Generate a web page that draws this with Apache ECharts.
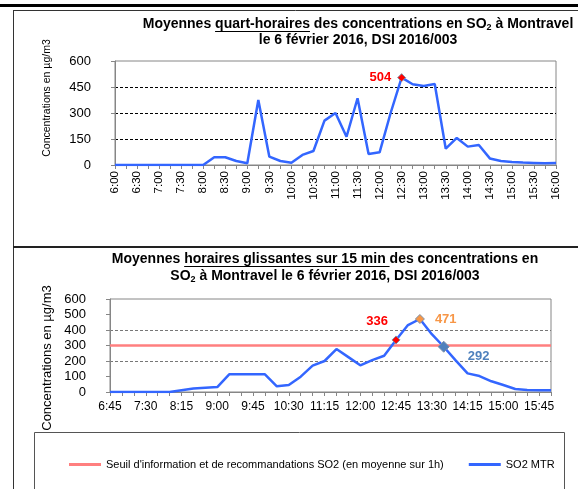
<!DOCTYPE html>
<html>
<head>
<meta charset="utf-8">
<script src="https://cdn.jsdelivr.net/npm/echarts@6/dist/echarts.min.js"></script>
<style>
html, body { margin: 0; padding: 0; background: #fff; }
#chart { width: 578px; height: 489px; }
</style>
</head>
<body>
<div id="chart"></div>
<script>
// quart-horaires, 6:00 -> 16:00
const quartHeures = ['6:00','6:15','6:30','6:45','7:00','7:15','7:30','7:45','8:00','8:15','8:30','8:45',
	'9:00','9:15','9:30','9:45','10:00','10:15','10:30','10:45','11:00','11:15','11:30','11:45',
	'12:00','12:15','12:30','12:45','13:00','13:15','13:30','13:45','14:00','14:15','14:30','14:45',
	'15:00','15:15','15:30','15:45','16:00']
const so2Quart = [0,0,0,0,0,0,0,0,0,45,45,23,
	10,375,48,23,13,58,81,256,300,163,385,63,
	73,300,504,466,456,467,94,156,106,115,38,23,
	17,14,12,10,12]

// moyennes horaires glissantes, 6:45 -> 16:00
const heuresGlissantes = ['6:45','7:00','7:15','7:30','7:45','8:00','8:15','8:30','8:45',
	'9:00','9:15','9:30','9:45','10:00','10:15','10:30','10:45','11:00','11:15','11:30','11:45',
	'12:00','12:15','12:30','12:45','13:00','13:15','13:30','13:45','14:00','14:15','14:30','14:45',
	'15:00','15:15','15:30','15:45','16:00']
const so2Glissant = [0,0,0,0,0,0,11,22,28,
	32,114,114,114,114,37,45,99,170,200,277,225,
	172,206,234,336,432,471,373,292,204,120,103,69,
	45,19,13,11,11]
const seuil = 300

const police = 'Liberation Sans, Arial, sans-serif'
const bleu = '#3366ff'
const gris = '#868686'

// points annotés (style seulement)
const marquesQuart = {
	'12:30': { color: '#ff0000', size: 8, label: { position: 'left', distance: 6 } },
}
const marquesGlissant = {
	'12:45': { color: '#ff0000', size: 8, label: { position: 'top', distance: 5, offset: [-19, -2] } },
	'13:15': { color: '#f79646', size: 9, label: { position: 'right', distance: 10 } },
	'13:45': { color: '#4f81bd', size: 11, label: { position: 'right', distance: 18, offset: [0, 10] } },
}

function avecMarques(valeurs, cats, marques) {
	return valeurs.map((v, i) => {
		const m = marques[cats[i]]
		if (!m) return v
		return {
			value: v,
			symbol: 'diamond',
			symbolSize: m.size,
			itemStyle: { color: m.color, borderColor: '#7f8fa6', borderWidth: 1 },
			label: Object.assign({
				show: true,
				formatter: String(v),
				color: m.color,
				fontWeight: 'bold',
				fontSize: 13,
				fontFamily: police,
			}, m.label),
		}
	})
}

// titres : segments mesurés pour placer indice et soulignement
const ctx = document.createElement('canvas').getContext('2d')
function largeur(txt, taille) {
	ctx.font = 'bold ' + taille + 'px ' + police
	return ctx.measureText(txt).width
}
function ligneTitre(segments, cx, cy) {
	const els = []
	const tailles = segments.map(s => (s.sub ? 9 : 14))
	const larg = segments.map((s, i) => largeur(s.t, tailles[i]))
	let x = cx - larg.reduce((a, b) => a + b, 0) / 2
	segments.forEach((s, i) => {
		els.push({
			type: 'text', x: x, y: s.sub ? cy + 4 : cy,
			style: {
				text: s.t, fill: '#000', fontSize: tailles[i], fontWeight: 'bold',
				fontFamily: police, align: 'left', verticalAlign: 'middle',
			},
		})
		if (s.u) {
			els.push({
				type: 'line',
				shape: { x1: x, y1: cy + 7.5, x2: x + larg[i], y2: cy + 7.5 },
				style: { stroke: '#000', lineWidth: 1 },
			})
		}
		x += larg[i]
	})
	return els
}

const titres = [].concat(
	ligneTitre([
		{ t: 'Moyennes ' },
		{ t: 'quart-horaires', u: true },
		{ t: ' des concentrations en SO' },
		{ t: '2', sub: true },
		{ t: ' à Montravel' },
	], 358, 24),
	ligneTitre([{ t: 'le 6 février 2016, DSI 2016/003' }], 358, 40),
	ligneTitre([
		{ t: 'Moyennes ' },
		{ t: 'horaires glissantes sur 15 min ', u: true },
		{ t: 'des concentrations en' },
	], 325, 259),
	ligneTitre([
		{ t: 'SO' },
		{ t: '2', sub: true },
		{ t: ' à Montravel le 6 février 2016, DSI 2016/003' },
	], 325, 276)
)

function nomAxe(y, taille) {
	return {
		type: 'text', x: 47, y: y, rotation: Math.PI / 2,
		style: {
			text: 'Concentrations en µg/m3', fill: '#000', fontSize: taille,
			fontFamily: police, align: 'center', verticalAlign: 'middle',
		},
	}
}

const cadre = [
	{ type: 'rect', shape: { x: 0, y: 4, width: 578, height: 3 }, style: { fill: '#000' } },
	{ type: 'line', shape: { x1: 13.5, y1: 10, x2: 13.5, y2: 489 }, style: { stroke: '#333', lineWidth: 1 } },
	{ type: 'line', shape: { x1: 13, y1: 10.5, x2: 578, y2: 10.5 }, style: { stroke: '#333', lineWidth: 1 } },
	{ type: 'line', shape: { x1: 13, y1: 247, x2: 578, y2: 247 }, style: { stroke: '#222', lineWidth: 2 } },
	{ type: 'rect', shape: { x: 34.5, y: 432.5, width: 530, height: 80 }, style: { fill: 'none', stroke: '#555', lineWidth: 1 } },
	nomAxe(98, 10.5),
	nomAxe(358, 13),
]

const texteAxe = { color: '#000', fontFamily: police }

const chart = echarts.init(document.getElementById('chart'))
chart.setOption({
	animation: false,
	graphic: { elements: cadre.concat(titres) },
	grid: [
		{ left: 115, top: 61, width: 441, height: 104, show: true, borderColor: gris, borderWidth: 1 },
		{ left: 110, top: 299, width: 441, height: 93, show: true, borderColor: gris, borderWidth: 1 },
	],
	legend: {
		left: 64, top: 454,
		itemWidth: 32, itemHeight: 3, itemGap: 25,
		icon: 'rect',
		textStyle: { fontSize: 11, color: '#000', fontFamily: police },
		data: ["Seuil d'information et de recommandations SO2 (en moyenne sur 1h)", 'SO2 MTR'],
	},
	xAxis: [
		{
			gridIndex: 0, type: 'category', data: quartHeures, boundaryGap: false,
			axisLine: { lineStyle: { color: gris } },
			axisTick: { interval: 0, length: 4, lineStyle: { color: gris } },
			axisLabel: Object.assign({ interval: 1, rotate: 90, fontSize: 11.5, margin: 6 }, texteAxe),
		},
		{
			gridIndex: 1, type: 'category', data: heuresGlissantes, boundaryGap: false,
			axisLine: { lineStyle: { color: gris } },
			axisTick: { interval: 0, length: 4, lineStyle: { color: gris } },
			axisLabel: Object.assign({ interval: 2, fontSize: 12, margin: 9 }, texteAxe),
		},
	],
	yAxis: [
		{
			gridIndex: 0, type: 'value', min: 0, max: 600, interval: 150,
			axisLine: { show: true, lineStyle: { color: gris } },
			axisTick: { show: true, length: 4, lineStyle: { color: gris } },
			axisLabel: Object.assign({ fontSize: 13, margin: 24 }, texteAxe),
			splitLine: { show: true, showMinLine: false, showMaxLine: false, lineStyle: { color: '#000', type: [3, 2], width: 1 } },
		},
		{
			gridIndex: 1, type: 'value', min: 0, max: 600, interval: 100,
			axisLine: { show: true, lineStyle: { color: gris } },
			axisTick: { show: true, length: 4, lineStyle: { color: gris } },
			axisLabel: Object.assign({ fontSize: 13, margin: 24 }, texteAxe),
			splitLine: { show: false },
		},
		{
			gridIndex: 1, type: 'value', min: 0, max: 600, interval: 200,
			axisLine: { show: false }, axisTick: { show: false }, axisLabel: { show: false },
			splitLine: { show: true, showMinLine: false, showMaxLine: false, lineStyle: { color: '#777', type: [3, 2], width: 1 } },
		},
	],
	series: [
		{
			name: 'SO2 quart-horaire', type: 'line', xAxisIndex: 0, yAxisIndex: 0,
			data: avecMarques(so2Quart, quartHeures, marquesQuart),
			symbol: 'none', showAllSymbol: true, color: bleu,
			lineStyle: { color: bleu, width: 2.5 },
		},
		{
			name: "Seuil d'information et de recommandations SO2 (en moyenne sur 1h)",
			type: 'line', xAxisIndex: 1, yAxisIndex: 1,
			data: [[heuresGlissantes[0], seuil], [heuresGlissantes[heuresGlissantes.length - 1], seuil]],
			symbol: 'none', color: '#ff7f7f',
			lineStyle: { color: '#ff7f7f', width: 2.5 },
		},
		{
			name: 'SO2 MTR', type: 'line', xAxisIndex: 1, yAxisIndex: 1,
			data: avecMarques(so2Glissant, heuresGlissantes, marquesGlissant),
			symbol: 'none', showAllSymbol: true, color: bleu,
			lineStyle: { color: bleu, width: 2.5 },
		},
	],
})
</script>
</body>
</html>
